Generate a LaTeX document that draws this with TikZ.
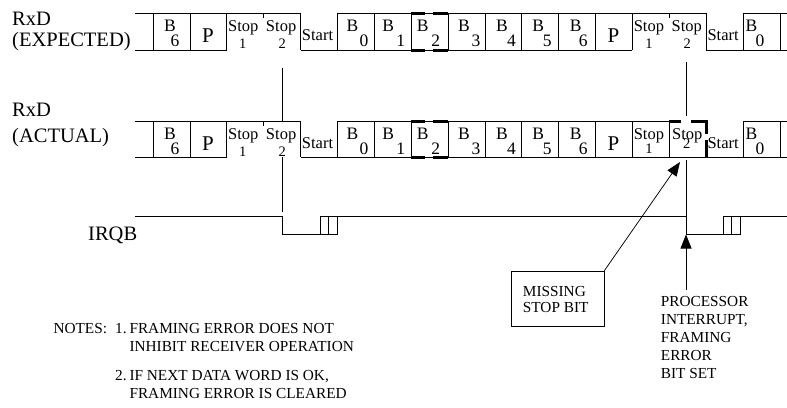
\documentclass[tikz,border=0pt]{standalone}
\usepackage{fontspec}
\setmainfont{Liberation Serif}
\usetikzlibrary{arrows.meta}
\tikzset{
  wave/.style={line width=0.75pt, line cap=butt},
  thk/.style={line width=3pt, line cap=butt},
  labf/.style={font=\fontsize{20.5}{24}\selectfont, inner sep=0pt, anchor=base west},
  bf/.style={font=\fontsize{17.5}{19}\selectfont, inner sep=0pt, anchor=base west},
  pf/.style={font=\fontsize{21}{24}\selectfont, inner sep=0pt, anchor=base},
  sf/.style={font=\fontsize{16.5}{18}\selectfont, inner sep=0pt, anchor=base},
  sdf/.style={font=\fontsize{14.5}{16}\selectfont, inner sep=0pt, anchor=base},
  nf/.style={font=\fontsize{15.3}{18}\selectfont, inner sep=0pt, anchor=base west},
  pointer/.style={line width=0.75pt, -{Triangle[width=11pt,length=14pt]}},
}
\begin{document}
\begin{tikzpicture}[x=1pt,y=-1pt]
\useasboundingbox (0,0) rectangle (787,407);

% ---------------- row labels
\node[labf] (rxd1) at (12,25) {RxD};
\node[labf] (exp) at (12,46.5) {(EXPECTED)};
\node[labf] (rxd2) at (12,116.7) {RxD};
\node[labf] (act) at (12,142.7) {(ACTUAL)};
\node[labf] (irqb) at (88,240) {IRQB};

% ---------------- row 1 waveform
\draw[wave] (135,13) -- (300.5,13) (337.375,13) -- (706.125,13) (743,13) -- (787,13);
\draw[wave] (135,50) -- (226.75,50) (300.5,50) -- (632.375,50) (706.125,50) -- (787,50);
\foreach \x in {153,189.875,226.75,300.5,337.375,374.25,411.125,448,484.875,521.75,558.625,595.5,632.375,706.125,743,779.875}
  \draw[wave] (\x,13) -- (\x,50);
\foreach \x in {263.625,669.25}
  \draw[wave] (\x,13) -- (\x,18);

% ---------------- row 2 waveform
\draw[wave] (135,121) -- (300.5,121) (337.375,121) -- (669.25,121) (743,121) -- (787,121);
\draw[wave] (135,157) -- (226.75,157) (300.5,157) -- (787,157);
\foreach \x in {153,189.875,226.75,300.5,337.375,374.25,411.125,448,484.875,521.75,558.625,595.5,632.375,669.25,743,779.875}
  \draw[wave] (\x,121) -- (\x,157);
\draw[wave] (263.625,121) -- (263.625,126);

% ---------------- thick dashed highlights
\foreach \T in {13,50,121,157}
  \draw[thk] (411.125,\T) -- (425,\T) (433,\T) -- (448,\T);
\draw[thk] (669.25,121) -- (681,121) (691,121) -- (706.125,121);
\draw[thk] (706.125,119.5) -- (706.125,134) (706.125,140) -- (706.125,157);

% ---------------- cell texts
\foreach \r/\T in {1/13,2/121}{
  \foreach \i/\d/\bx/\dx in {0/6/11/17.5,5/0/9/22,6/1/8/22,7/2/5.5/20,8/3/10/23.5,9/4/11/22,10/5/10.5/21,11/6/11/20,16/0/2.5/12.5}{
    \node[bf] (b\r-\i) at ({153+\i*36.875+\bx},{\T+18}) {B};
    \node[bf] (d\r-\i) at ({153+\i*36.875+\dx},{\T+33.3}) {\d};
  }
  \foreach \i in {1,12}
    \node[pf] (p\r-\i) at ({153+\i*36.875+18},{\T+29}) {P};
  \foreach \i in {4,15}
    \node[sf] (st\r-\i) at ({153+\i*36.875+17},{\T+27}) {Start};
  \node[sf] (sa\r-2) at ({153+2*36.875+16.5},{\T+18}) {Stop};
  \node[sdf] (sn\r-2) at ({153+2*36.875+16},{\T+35.5}) {1};
  \node[sf] (sa\r-3) at ({153+3*36.875+17.5},{\T+18}) {Stop};
  \node[sdf] (sn\r-3) at ({153+3*36.875+18.5},{\T+35.5}) {2};
  \node[sf] (sa\r-13) at ({153+13*36.875+16.5},{\T+18}) {Stop};
}
\node[sdf] (sn1-13) at ({153+13*36.875+16.5},{13+35.5}) {1};
\node[sf] (sa1-14) at ({153+14*36.875+17.5},{13+18}) {Stop};
\node[sdf] (sn1-14) at ({153+14*36.875+18},{13+35.5}) {2};
\node[sdf] (sn2-13) at ({153+13*36.875+16.5},{121+32}) {1};
\node[sf] (sa2-14) at ({153+14*36.875+18},{121+18.5}) {Stop};
\node[sdf] (sn2-14) at ({153+14*36.875+17.5},{121+27.5}) {2};

% ---------------- IRQB waveform
\draw[wave] (135,216) -- (282.5,216) -- (282.5,234) -- (337.3,234) -- (337.3,216);
\draw[wave] (320,234) -- (320,216) (328.3,216) -- (328.3,234);
\draw[wave] (320,216) -- (686,216) -- (686,234) -- (740,234) -- (740,216);
\draw[wave] (723.3,234) -- (723.3,216) -- (787,216) (731.7,216) -- (731.7,234);

% ---------------- vertical markers
\coordinate (m1a) at (282.5,68);
\coordinate (m1b) at (282.5,121);
\coordinate (m1c) at (282.5,157);
\coordinate (m1d) at (282.5,212);
\coordinate (m2a) at (686,62);
\coordinate (m2b) at (686,115.5);
\coordinate (m2c) at (686,160);
\coordinate (m2d) at (686,216);
\draw[wave] (m1a) -- (m1b) (m1c) -- (m1d);
\draw[wave] (m2a) -- (m2b) (m2c) -- (m2d);

% ---------------- callouts
\node[draw, line width=0.75pt, minimum width=92.3pt, minimum height=55.7pt, inner sep=0pt] (miss) at (557.85,298.85) {};
\node[nf] (miss1) at (522.7,296) {MISSING};
\node[nf] (miss2) at (522.7,312.7) {STOP BIT};
\coordinate (misstip) at (680,162);
\draw[pointer] (miss.north east) -- (misstip);

\coordinate (proc) at (686,289.5);
\coordinate (proctip) at (686,234.5);
\draw[pointer] (proc) -- (proctip);
\node[nf] (pr1) at (660.7,306) {PROCESSOR};
\node[nf] (pr2) at (660.7,324) {INTERRUPT,};
\node[nf] (pr3) at (660.7,342.3) {FRAMING};
\node[nf] (pr4) at (660.7,360) {ERROR};
\node[nf] (pr5) at (660.7,378) {BIT SET};

% ---------------- notes
\node[nf] (n0) at (53.3,333.3) {NOTES:};
\node[nf] (n1) at (115,333.3) {1.};
\node[nf] (n1a) at (129.3,333.3) {FRAMING ERROR DOES NOT};
\node[nf] (n1b) at (129.3,351.7) {INHIBIT RECEIVER OPERATION};
\node[nf] (n2) at (115,380) {2.};
\node[nf] (n2a) at (129.3,380) {IF NEXT DATA WORD IS OK,};
\node[nf] (n2b) at (129.3,398) {FRAMING ERROR IS CLEARED};
\end{tikzpicture}
\end{document}
